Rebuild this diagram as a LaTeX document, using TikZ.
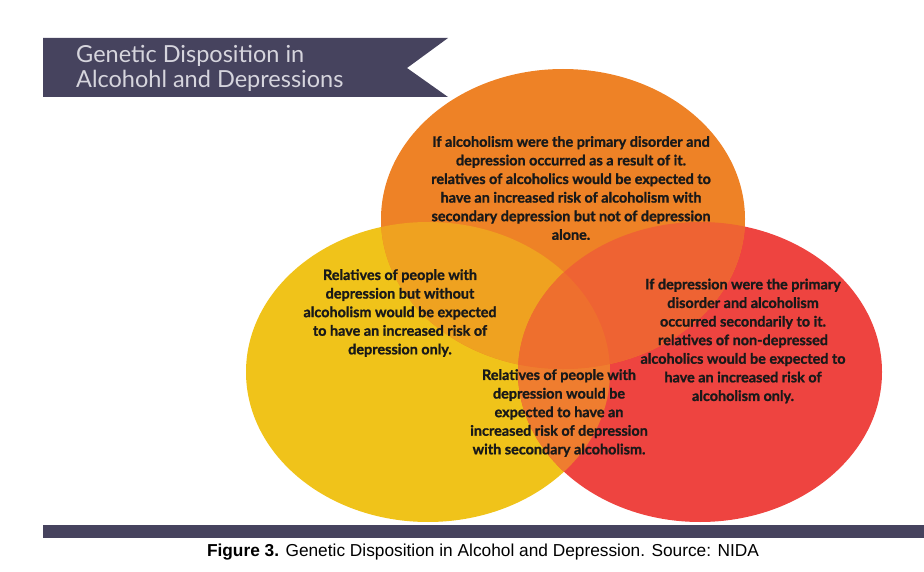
\documentclass[tikz,border=0pt]{standalone}
\usepackage{fontspec}
\setmainfont{Lato}
\newfontfamily\vennfont[FakeBold=1.2]{Lato}
\newfontfamily\captionfont{Liberation Sans}
\usetikzlibrary{positioning}

\definecolor{bannerslate}{HTML}{46435E}
\definecolor{titlegray}{HTML}{D6D5DD}
\definecolor{vennyellow}{HTML}{F0C31A}
\definecolor{vennorange}{HTML}{EE8226}
\definecolor{vennred}{HTML}{EE4440}
\colorlet{yelloworange}{vennyellow!50!vennorange}
\colorlet{orangered}{vennorange!50!vennred}
\colorlet{yellowred}{vennyellow!45!vennred}
\colorlet{allthree}{vennorange!70!vennred}

\begin{document}
\begin{tikzpicture}[x=1pt,y=-1pt,
        venntext/.style={align=center, inner sep=0pt, text=black!90,
            font=\vennfont\fontsize{14.4}{18.6}\selectfont\bfseries},
        bannertext/.style={align=left, anchor=west, inner sep=0pt, text=titlegray,
            font=\fontsize{23.5}{25}\selectfont}]
    \useasboundingbox (0,0) rectangle (924,572);
    % title banner
    \fill[bannerslate] (43,38) -- (448,38) -- (407,68) -- (448,97) -- (43,97) -- cycle;
    \node[bannertext] (bannertitle) at (76,68) {Genetic Disposition in\\Alcohohl and Depressions};
    % the three sets
    \fill[vennyellow] (428,372) ellipse [x radius=182pt, y radius=150pt];
    \fill[vennred] (700,372) ellipse [x radius=182pt, y radius=150pt];
    \fill[vennorange] (563,219) ellipse [x radius=182pt, y radius=150pt];
    \begin{scope}
        \clip (428,372) ellipse [x radius=182pt, y radius=150pt];
        \fill[yellowred] (700,372) ellipse [x radius=182pt, y radius=150pt];
        \fill[yelloworange] (563,219) ellipse [x radius=182pt, y radius=150pt];
    \end{scope}
    \begin{scope}
        \clip (700,372) ellipse [x radius=182pt, y radius=150pt];
        \fill[orangered] (563,219) ellipse [x radius=182pt, y radius=150pt];
        \clip (428,372) ellipse [x radius=182pt, y radius=150pt];
        \fill[allthree] (563,219) ellipse [x radius=182pt, y radius=150pt];
    \end{scope}
    % texts
    \node[venntext] (alcfirst) at (571,188) {If alcoholism were the primary disorder and\\
        depression occurred as a result of it.\\relatives of alcoholics would be expected to\\
        have an increased risk of alcoholism with\\secondary depression but not of depression\\alone.};
    \node[venntext] (deponly) at (400,313) {Relatives of people with\\depression but without\\
        alcoholism would be expected\\to have an increased risk of\\depression only.};
    \node[venntext] (depfirst) at (743,341) {If depression were the primary\\disorder and alcoholism\\
        occurred secondarily to it.\\relatives of non-depressed\\alcoholics would be expected to\\
        have an increased risk of\\alcoholism only.};
    \node[venntext] (depboth) at (559,413) {Relatives of people with\\depression would be\\
        expected to have an\\increased risk of depression\\with secondary alcoholism.};
    % bottom bar and caption
    \fill[bannerslate] (43,525) rectangle (924,538);
    \node[inner sep=0pt, font=\captionfont\fontsize{17.3}{20}\selectfont] (figcaption) at (483,552)
        {\textbf{Figure 3.} Genetic Disposition in Alcohol and Depression. Source: NIDA};
\end{tikzpicture}
\end{document}
